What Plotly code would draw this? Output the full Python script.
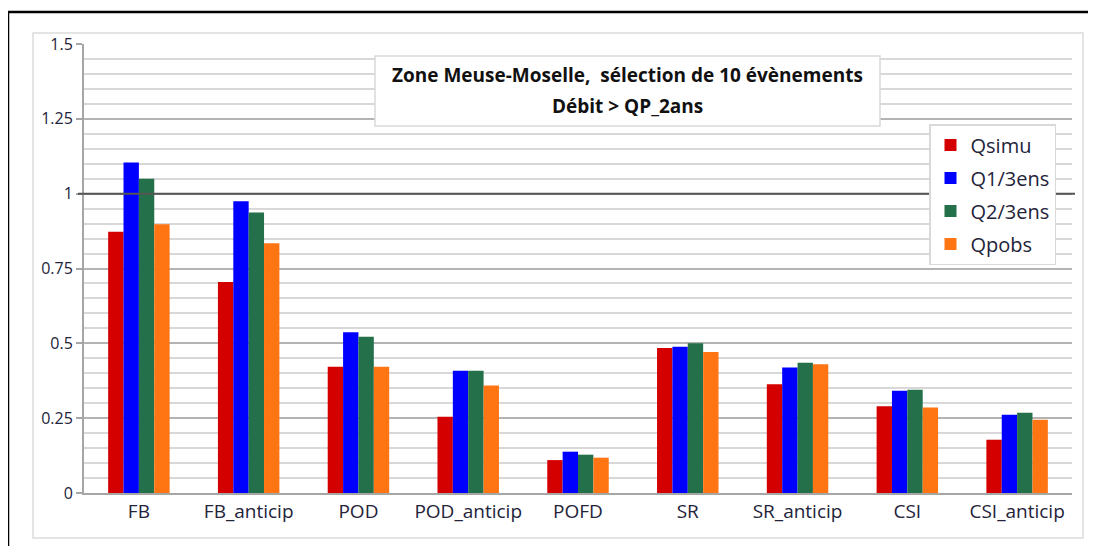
"""Bar chart: verification scores, zone Meuse-Moselle."""
import plotly.graph_objects as go

categories = ["FB", "FB_anticip", "POD", "POD_anticip", "POFD",
              "SR", "SR_anticip", "CSI", "CSI_anticip"]
qsimu = [0.873, 0.705, 0.422, 0.255, 0.110, 0.484, 0.363, 0.290, 0.178]
q1_3ens = [1.104, 0.975, 0.537, 0.408, 0.138, 0.489, 0.419, 0.342, 0.261]
q2_3ens = [1.050, 0.937, 0.522, 0.408, 0.128, 0.500, 0.435, 0.345, 0.268]
qpobs = [0.898, 0.834, 0.422, 0.359, 0.118, 0.471, 0.430, 0.286, 0.245]
y_ticks = [0, 0.25, 0.5, 0.75, 1, 1.25, 1.5]
y_ticklabels = ["0", "0.25", "0.5", "0.75", "1", "1.25", "1.5"]

series = [
    ("Qsimu", qsimu, "#d40000"),
    ("Q1/3ens", q1_3ens, "#0000ff"),
    ("Q2/3ens", q2_3ens, "#23704a"),
    ("Qpobs", qpobs, "#ff7514"),
]

W, H = 1096, 546
OFF = 8                                  # page body margin
L, R, T, B = 84, 1072, 44, 493           # plot area, screen pixels


def px_x(p):
    return (p - L) / (R - L)


def px_y(p):
    return (B - p) / (B - T)


FONT = "Open Sans, sans-serif"
TXT = "#23233a"

fig = go.Figure()
for name, vals, color in series:
    fig.add_trace(go.Bar(
        x=categories, y=vals, name=name, legendgroup=name,
        marker=dict(color=color, line=dict(width=0)),
    ))

# outer black frame and inner light-grey chart border
fig.add_shape(type="rect", xref="paper", yref="paper",
              x0=px_x(8), x1=px_x(1120), y0=px_y(570), y1=px_y(12),
              line=dict(color="black", width=2.5), layer="below")
fig.add_shape(type="rect", xref="paper", yref="paper",
              x0=px_x(33), x1=px_x(1083), y0=px_y(538), y1=px_y(33),
              line=dict(color="#dcdcdc", width=1.5), layer="below")
# reference line at 1
fig.add_shape(type="line", xref="paper", yref="y",
              x0=px_x(78), x1=px_x(1075), y0=1, y1=1,
              line=dict(color="#555555", width=2))

# title box
fig.add_shape(type="rect", xref="paper", yref="paper",
              x0=px_x(375), x1=px_x(880), y0=px_y(126), y1=px_y(56),
              line=dict(color="#d9d9d9", width=1.5), fillcolor="white")
fig.add_annotation(
    xref="paper", yref="paper", x=px_x(627), y=px_y(75),
    xanchor="center", yanchor="middle", showarrow=False,
    text="<b>Zone Meuse-Moselle,  sélection de 10 évènements</b>",
    font=dict(family=FONT, size=19, color="#111111"),
)
fig.add_annotation(
    xref="paper", yref="paper", x=px_x(627), y=px_y(106),
    xanchor="center", yanchor="middle", showarrow=False,
    text="<b>Débit > QP_2ans</b>",
    font=dict(family=FONT, size=19, color="#111111"),
)

fig.update_layout(
    width=W, height=H,
    margin=dict(l=L - OFF, r=W - R + OFF, t=T - OFF, b=H - B + OFF),
    paper_bgcolor="white", plot_bgcolor="white",
    barmode="group", bargap=0.44, bargroupgap=0,
    font=dict(family=FONT, color=TXT),
    legend=dict(
        x=px_x(929), y=px_y(124), xanchor="left", yanchor="top",
        bgcolor="white", bordercolor="#d9d9d9", borderwidth=1.5,
        font=dict(family=FONT, size=20, color=TXT),
        traceorder="grouped", tracegroupgap=4, itemwidth=30,
    ),
    showlegend=True,
)
fig.update_yaxes(
    range=[0, 1.5], tickvals=y_ticks, ticktext=y_ticklabels,
    showgrid=True, gridcolor="#b4b4b4", gridwidth=1.8,
    minor=dict(dtick=0.05, showgrid=True, gridcolor="#d8d8d8", gridwidth=1.8),
    ticks="outside", ticklen=6, tickcolor="#a6a6a6", tickwidth=1.8,
    showline=True, linecolor="#a6a6a6", linewidth=2,
    tickfont=dict(family=FONT, size=16, color=TXT), zeroline=False,
)
fig.update_xaxes(
    range=[-0.5, 8.5], showline=True, linecolor="#a6a6a6", linewidth=2,
    ticks="", tickfont=dict(family=FONT, size=19, color=TXT),
)

fig.write_html("out.html")
